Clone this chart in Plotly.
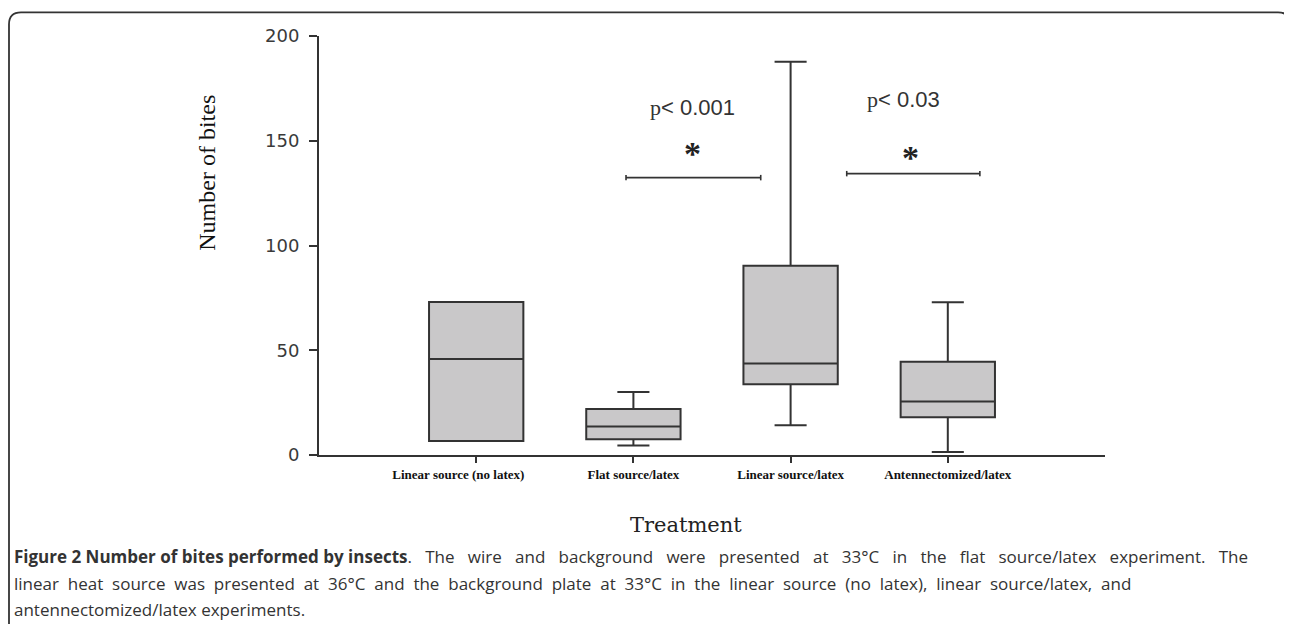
import plotly.graph_objects as go

# ---- data ----
categories = ["Linear source (no latex)", "Flat source/latex", "Linear source/latex", "Antennectomized/latex"]
lower_whisker = [6.7, 4.5, 14.2, 1.4]
q1_values = [6.7, 7.5, 33.8, 18.0]
median_values = [45.8, 13.6, 43.7, 25.5]
q3_values = [73.0, 21.9, 90.3, 44.5]
upper_whisker = [73.0, 30.1, 187.7, 72.9]
y_ticks = [0, 50, 100, 150, 200]

# significance brackets
bracket_x0 = [0.953, 2.357]
bracket_x1 = [1.81, 3.204]
bracket_y = [132.4, 134.3]
p_labels = ["p< 0.001", "p< 0.03"]
p_label_x = [1.374, 2.72]
p_label_y = [166.0, 169.8]
star_x = [1.374, 2.764]
star_y = [143.9, 141.9]

OFF = 8  # page body margin in the browser
W, H = 1292, 624
L, R, T, B = 319 - OFF, 1105 - OFF, 35.7 - OFF, 455.5 - OFF

def px_x(px):
    return (px - OFF - L) / (R - L)

def px_y(py):
    return (B - (py - OFF)) / (B - T)

fig = go.Figure()
fig.add_trace(go.Box(
    x=categories,
    q1=q1_values, median=median_values, q3=q3_values,
    lowerfence=lower_whisker, upperfence=upper_whisker,
    fillcolor="#c9c8c9",
    line=dict(color="#333333", width=2),
    whiskerwidth=0.34,
    width=0.6,
    boxpoints=False,
    hoverinfo="skip",
    showlegend=False,
))

shapes = []
for x0, x1, y in zip(bracket_x0, bracket_x1, bracket_y):
    shapes.append(dict(type="line", xref="x", yref="y", x0=x0, x1=x1, y0=y, y1=y,
                       line=dict(color="#333333", width=1.6)))
    for xx in (x0, x1):
        shapes.append(dict(type="line", xref="x", yref="y", x0=xx, x1=xx, y0=y - 1.3, y1=y + 1.3,
                           line=dict(color="#333333", width=1.6)))

# outer rounded frame (paper coordinates computed from reference pixels)
fl, ft, fr, fb, rad = 9, 12, 1290, 660, 12
path = (f"M {px_x(fl)},{px_y(fb)} L {px_x(fl)},{px_y(ft + rad)} "
        f"Q {px_x(fl)},{px_y(ft)} {px_x(fl + rad)},{px_y(ft)} "
        f"L {px_x(fr - rad)},{px_y(ft)} Q {px_x(fr)},{px_y(ft)} {px_x(fr)},{px_y(ft + rad)} "
        f"L {px_x(fr)},{px_y(fb)}")
shapes.append(dict(type="path", xref="paper", yref="paper", path=path,
                   line=dict(color="#333333", width=1.8)))

annotations = []
for txt, x, y in zip(p_labels, p_label_x, p_label_y):
    annotations.append(dict(x=x, y=y, xref="x", yref="y", showarrow=False,
                            xanchor="center", yanchor="middle",
                            text=txt.replace("p", "<span style='font-family:Liberation Serif'>p</span>", 1),
                            font=dict(family="Liberation Sans", size=22, color="#333333")))
for x, y in zip(star_x, star_y):
    annotations.append(dict(x=x, y=y, xref="x", yref="y", showarrow=False,
                            text="<b>*</b>", xanchor="center", yanchor="middle",
                            font=dict(family="Liberation Serif", size=34, color="#222222")))

annotations.append(dict(x=px_x(206.7), y=px_y(173), xref="paper", yref="paper", showarrow=False,
                        xanchor="center", yanchor="middle",
                        text="Number of bites", textangle=-90,
                        font=dict(family="Liberation Serif", size=24, color="#111111")))
annotations.append(dict(x=px_x(685.8), y=px_y(525.7), xref="paper", yref="paper", showarrow=False,
                        xanchor="center", yanchor="middle",
                        text="Treatment",
                        font=dict(family="DejaVu Serif", size=21, color="#222222")))

caption_bold = "Figure 2 Number of bites performed by insects"
caption_lines = [
    ". The wire and background were presented at 33°C in the flat source/latex experiment. The",
    "linear heat source was presented at 36°C and the background plate at 33°C in the linear source (no latex), linear source/latex, and",
    "antennectomized/latex experiments.",
]
caption_gap = ["&nbsp;&nbsp; ", "&nbsp; ", " "]
caption_y = [556.7, 584.0, 610.0]
for i, (line, gap, yy) in enumerate(zip(caption_lines, caption_gap, caption_y)):
    txt = line.replace(" ", gap)
    if i == 0:
        txt = "<b>" + caption_bold + "</b>" + txt
    annotations.append(dict(x=px_x(12), y=px_y(yy), xref="paper", yref="paper", showarrow=False,
                            text=txt, xanchor="left", yanchor="middle",
                            font=dict(family="Open Sans", size=17, color="#333333")))

tick_text = ["<b>" + c + "</b>" for c in categories]
tick_text[0] = tick_text[0] + "&nbsp;" * 11

fig.update_layout(
    width=W, height=H,
    margin=dict(l=L, r=W - R, t=T, b=H - B, pad=0),
    paper_bgcolor="white", plot_bgcolor="white",
    shapes=shapes, annotations=annotations,
    xaxis=dict(type="category", categoryorder="array", categoryarray=categories,
               tickvals=categories, ticktext=tick_text,
               range=[-1, 4], showline=True, linecolor="#333333", linewidth=2,
               ticks="outside", ticklen=6, tickwidth=2, tickcolor="#333333",
               showgrid=False, zeroline=False,
               tickfont=dict(family="Liberation Serif", size=13, color="#111111")),
    yaxis=dict(range=[0, 200], tickvals=y_ticks, showline=True, linecolor="#333333", linewidth=2,
               ticks="outside", ticklen=8, tickwidth=2, tickcolor="#333333",
               showgrid=False, zeroline=False, ticklabelstandoff=6,
               tickfont=dict(family="DejaVu Sans", size=18, color="#3a3a3a")),
)

fig.write_html("out.html")
